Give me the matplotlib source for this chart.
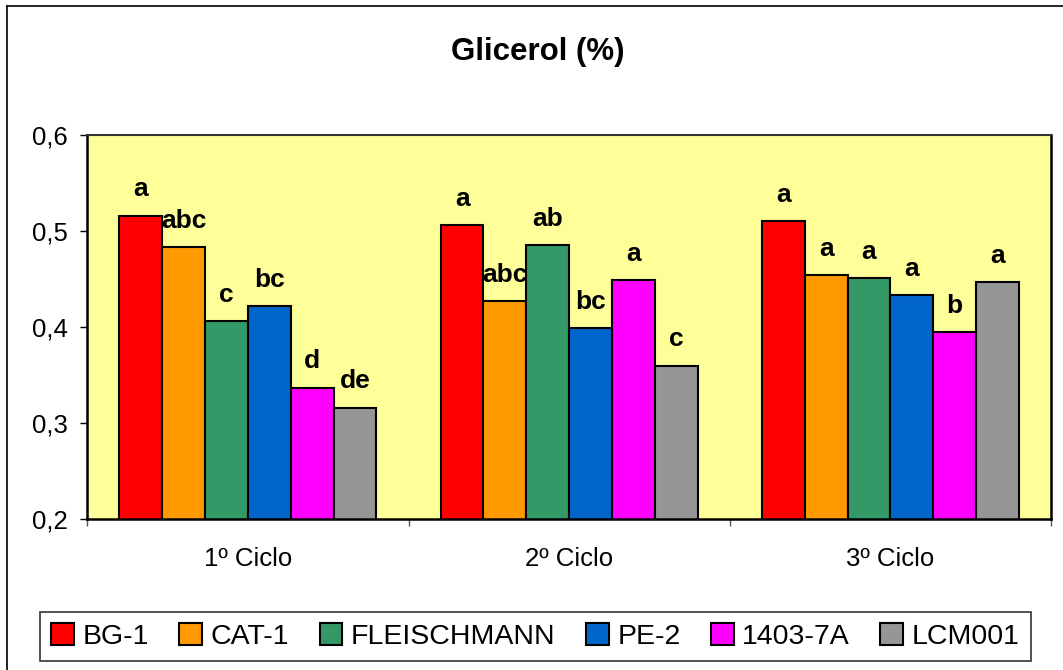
import matplotlib.pyplot as plt
import numpy as np
from matplotlib.lines import Line2D

plt.rcParams['font.family'] = ['Liberation Sans', 'DejaVu Sans']

ciclos = ["1º Ciclo", "2º Ciclo", "3º Ciclo"]
cepas = ["BG-1", "CAT-1", "FLEISCHMANN", "PE-2", "1403-7A", "LCM001"]
cores = ["#FF0000", "#FF9900", "#339966", "#0066CC", "#FF00FF", "#969696"]

# glicerol (%) por cepa, um valor por ciclo
bg1 = [0.516, 0.506, 0.510]
cat1 = [0.483, 0.427, 0.454]
fleischmann = [0.406, 0.485, 0.451]
pe2 = [0.422, 0.399, 0.433]
l1403 = [0.337, 0.449, 0.395]
lcm001 = [0.316, 0.360, 0.447]
valores = [bg1, cat1, fleischmann, pe2, l1403, lcm001]

# letras do teste de medias
letras = [["a", "a", "a"],
          ["abc", "abc", "a"],
          ["c", "ab", "a"],
          ["bc", "bc", "a"],
          ["d", "a", "b"],
          ["de", "c", "a"]]

W, H = 1063, 670
fig = plt.figure(figsize=(W / 100, H / 100), dpi=100)
ax = fig.add_axes([87.3 / W, 1 - 519.3 / H, (1051 - 87.3) / W, (519.3 - 135) / H])
ax.set_facecolor("#FFFF99")

x = np.arange(len(ciclos))
largura = 0.8 / len(cepas)
for i, (nome, cor) in enumerate(zip(cepas, cores)):
    pos = x - 0.4 + largura * (i + 0.5)
    ax.bar(pos, valores[i], width=largura, color=cor, edgecolor="black",
           linewidth=1.5, label=nome, bottom=0, zorder=2)
    for xp, v, t in zip(pos, valores[i], letras[i]):
        ax.annotate(t, (xp, v), xytext=(0, 19), textcoords="offset points",
                    ha="center", va="center", fontsize=19, fontweight="bold")

ax.set_xlim(-0.5, 2.5)
ax.set_ylim(0.2, 0.6)
ax.set_yticks([0.2, 0.3, 0.4, 0.5, 0.6])
ax.set_yticklabels(["0,2", "0,3", "0,4", "0,5", "0,6"], fontsize=18.5)
ax.set_xticks(x)
ax.set_xticklabels(ciclos, fontsize=18.5)
ax.set_xticks([-0.5, 0.5, 1.5, 2.5], minor=True)
ax.tick_params(axis="x", which="major", length=0, pad=20)
ax.tick_params(axis="x", which="minor", length=5, width=1, color="#555555")
ax.tick_params(axis="y", length=5, width=1, pad=9)

for s in ["left", "bottom", "right"]:
    ax.spines[s].set_linewidth(1.8)
    ax.spines[s].set_color("black")
ax.spines["top"].set_linewidth(1.5)
ax.spines["top"].set_color("#333333")

fig.text(538 / W, 1 - 52 / H, "Glicerol (%)", ha="center", va="center",
         fontsize=22.5, fontweight="bold")

# moldura externa do grafico
fig.add_artist(Line2D([7 / W, 7 / W], [0, 1 - 6 / H], transform=fig.transFigure,
                      color="black", linewidth=1.2))
fig.add_artist(Line2D([7 / W, 1], [1 - 6 / H, 1 - 6 / H], transform=fig.transFigure,
                      color="black", linewidth=1.2))

leg = fig.legend(loc="center", ncol=6, mode="expand",
                 bbox_to_anchor=(40 / W, 1 - 666 / H, 991 / W, 59 / H),
                 fontsize=20.5, frameon=True, fancybox=False, edgecolor="black",
                 handlelength=0.8, handleheight=0.8, handletextpad=0.3,
                 columnspacing=1.0, borderaxespad=0)
leg.get_frame().set_linewidth(1.2)

plt.savefig("out.png", dpi=100)
